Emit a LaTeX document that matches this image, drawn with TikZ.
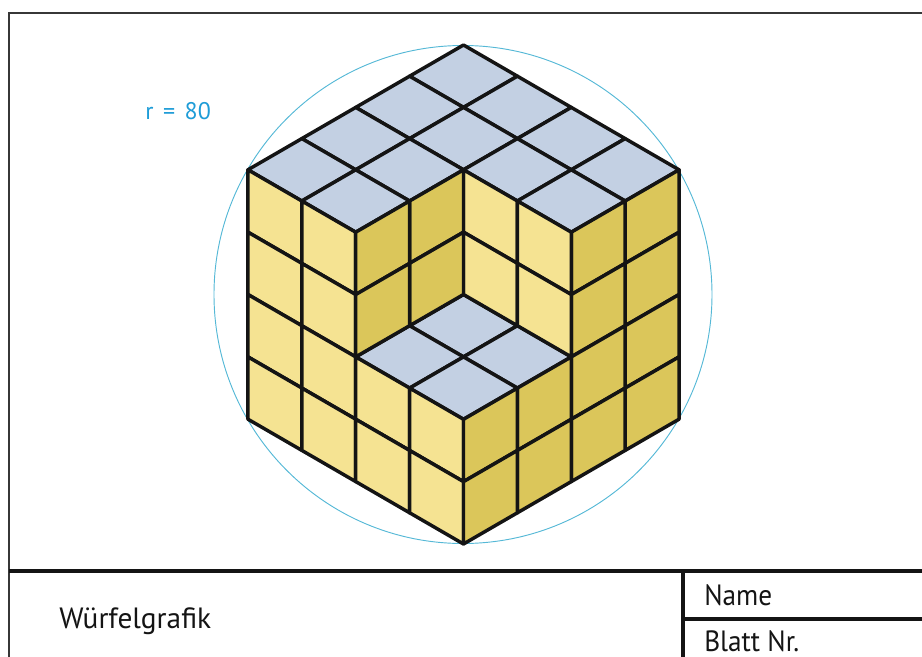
\documentclass[tikz,border=0pt]{standalone}
\usepackage{fontspec}
\setmainfont{PT Sans}
\definecolor{topblue}{HTML}{C3D0E3}
\definecolor{lightyellow}{HTML}{F5E392}
\definecolor{darkyellow}{HTML}{DBC65A}
\definecolor{circleblue}{HTML}{55B8D6}
\definecolor{labelblue}{HTML}{1E9CD7}
\definecolor{linegray}{HTML}{141414}
\tikzset{
    cellline/.style={draw=linegray,line width=2.6pt,line join=round},
    frameline/.style={draw=linegray!85,line width=1.2pt},
    titleline/.style={draw=linegray,line width=2.6pt},
    titletext/.style={anchor=base west,inner sep=0pt,text=linegray,font=\fontsize{22}{22}\selectfont},
    narrowtext/.style={titletext,transform shape,xscale=0.93},
}
\begin{document}
\begin{tikzpicture}[x=0.75pt,y=-0.75pt]
    \useasboundingbox (0,0) rectangle (922,657);
    % Draw the frame and the title block
    \draw[frameline] (9,657) -- (9,13) -- (922,13);
    \draw[titleline] (9,571) -- (922,571);
    \draw[titleline] (683,571) -- (683,657);
    \draw[titleline] (683,619) -- (922,619);
    \node[titletext] (title) at (59,628) {Würfelgrafik};
    \node[narrowtext] (name) at (704,605) {Name};
    \node[narrowtext] (sheet) at (704,651) {Blatt Nr.};
    % Draw the circle around the cube
    \draw[circleblue,line width=0.7pt] (463,294.5) circle (249);
    \node[anchor=base west,inner sep=0pt,text=labelblue,font=\fontsize{18}{18}\selectfont] (radius) at (145,119) {r\hspace{0.4em}=\hspace{0.4em}80};
    % Draw the cube cells, x and y run along the top, z runs down
    \begin{scope}[shift={(463.5,45)},x={(40.42pt,-23.4pt)},y={(-40.42pt,-23.4pt)},z={(0pt,-46.76pt)}]
        % Top cells without the notch
        \foreach \a in {0,...,3}{
        \foreach \b in {0,...,3}{
            \pgfmathparse{min(\a,\b)}
            \ifdim \pgfmathresult pt < 2pt
            \filldraw[cellline,fill=topblue] (\a,\b,0) -- (\a+1,\b,0) -- (\a+1,\b+1,0) -- (\a,\b+1,0) -- cycle;
            \fi
        }
        }
        % Floor of the notch
        \foreach \a in {2,3}{
        \foreach \b in {2,3}{
            \filldraw[cellline,fill=topblue] (\a,\b,2) -- (\a+1,\b,2) -- (\a+1,\b+1,2) -- (\a,\b+1,2) -- cycle;
        }
        }
        \foreach \s in {0,...,3}{
        \foreach \c in {0,...,3}{
            % Light faces, outer side and notch wall
            \ifnum \s<2
            \filldraw[cellline,fill=lightyellow] (\s,4,\c) -- (\s+1,4,\c) -- (\s+1,4,\c+1) -- (\s,4,\c+1) -- cycle;
            \else
            \ifnum \c<2
            \filldraw[cellline,fill=lightyellow] (\s,2,\c) -- (\s+1,2,\c) -- (\s+1,2,\c+1) -- (\s,2,\c+1) -- cycle;
            \else
            \filldraw[cellline,fill=lightyellow] (\s,4,\c) -- (\s+1,4,\c) -- (\s+1,4,\c+1) -- (\s,4,\c+1) -- cycle;
            \fi
            \fi
            % Dark faces, outer side and notch wall
            \ifnum \s<2
            \filldraw[cellline,fill=darkyellow] (4,\s,\c) -- (4,\s+1,\c) -- (4,\s+1,\c+1) -- (4,\s,\c+1) -- cycle;
            \else
            \ifnum \c<2
            \filldraw[cellline,fill=darkyellow] (2,\s,\c) -- (2,\s+1,\c) -- (2,\s+1,\c+1) -- (2,\s,\c+1) -- cycle;
            \else
            \filldraw[cellline,fill=darkyellow] (4,\s,\c) -- (4,\s+1,\c) -- (4,\s+1,\c+1) -- (4,\s,\c+1) -- cycle;
            \fi
            \fi
        }
        }
    \end{scope}
\end{tikzpicture}
\end{document}
